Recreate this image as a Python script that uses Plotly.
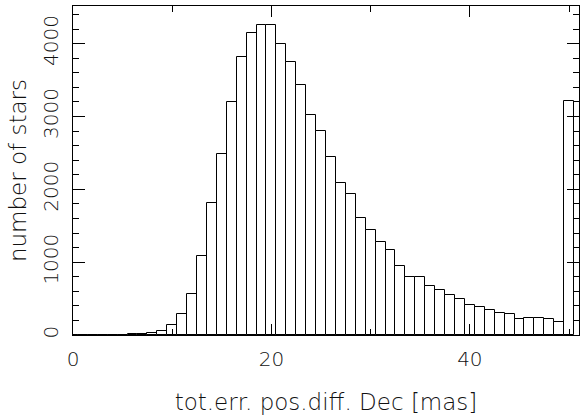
import plotly.graph_objects as go

# bin centres (mas) and star counts
bin_centers = list(range(0, 51))
star_counts = [2, 2, 3, 3, 4, 6, 10, 20, 30, 55,
               133, 293, 568, 1090, 1808, 2490, 3194, 3816, 4146, 4260,
               4260, 3995, 3748, 3428, 3020, 2806, 2449, 2092, 1941, 1611,
               1447, 1282, 1172, 947, 801, 797, 673, 618, 554, 494,
               417, 384, 348, 302, 293, 225, 233, 233, 220, 174,
               3217]

x_title = "tot.err. pos.diff. Dec [mas]"
y_title = "number of stars"

FONT = dict(family="DejaVu Sans", size=20, color="#111", weight=200)
TITLE_FONT = dict(FONT, size=23)

fig = go.Figure()
fig.add_trace(go.Bar(x=bin_centers, y=star_counts, width=1,
                     marker=dict(color="white", line=dict(color="black", width=1)),
                     showlegend=False))

axis_common = dict(showgrid=False, zeroline=False, showline=True, linecolor="black", linewidth=1,
                   mirror="allticks", ticks="inside", tickcolor="black", tickwidth=1,
                   tickfont=FONT, automargin=False)

fig.update_xaxes(range=[0, 51], tick0=0, dtick=20, ticklen=11,
                 minor=dict(dtick=10, tick0=0, ticklen=6, ticks="inside", tickcolor="black"),
                 ticklabelstandoff=6,
                 title=dict(text=x_title, font=TITLE_FONT, standoff=23), **axis_common)
fig.update_yaxes(range=[0, 4516], tick0=0, dtick=1000, ticklen=12, tickangle=-90,
                 minor=dict(dtick=200, tick0=0, ticklen=6, ticks="inside", tickcolor="black"),
                 ticklabelstandoff=6,
                 title=dict(text=y_title, font=TITLE_FONT, standoff=5), **axis_common)

fig.update_layout(width=580, height=416, margin=dict(l=73, r=1, t=6, b=81),
                  plot_bgcolor="white", paper_bgcolor="white", bargap=0)

# drop the default body margin so the 580x416 figure fills the window
fig.write_html("out.html", config={"displayModeBar": False},
               post_script="document.body.style.margin='0';")
